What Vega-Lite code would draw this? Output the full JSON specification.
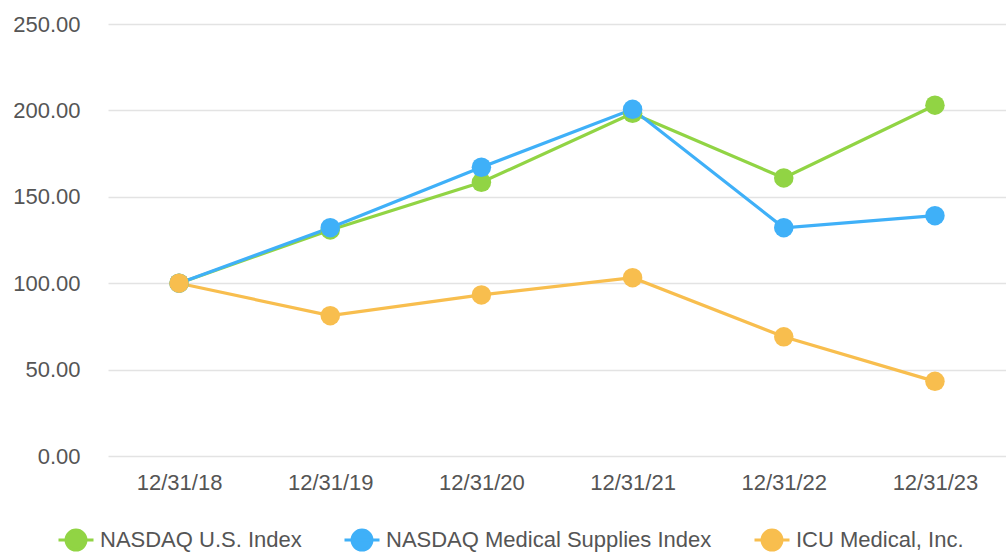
{
  "$schema": "https://vega.github.io/schema/vega-lite/v6.json",
  "width": 898,
  "height": 432,
  "autosize": "none",
  "padding": {"left": 108, "top": 24, "right": 0, "bottom": 98},
  "background": "white",
  "config": {
    "view": {"stroke": null},
    "font": "Liberation Sans"
  },
  "data": {
    "values": [
      {"date": "12/31/18", "series": "NASDAQ U.S. Index", "value": 100},
      {"date": "12/31/19", "series": "NASDAQ U.S. Index", "value": 130.8},
      {"date": "12/31/20", "series": "NASDAQ U.S. Index", "value": 158.4},
      {"date": "12/31/21", "series": "NASDAQ U.S. Index", "value": 198.3},
      {"date": "12/31/22", "series": "NASDAQ U.S. Index", "value": 160.9},
      {"date": "12/31/23", "series": "NASDAQ U.S. Index", "value": 203.0},
      {"date": "12/31/18", "series": "NASDAQ Medical Supplies Index", "value": 100},
      {"date": "12/31/19", "series": "NASDAQ Medical Supplies Index", "value": 132.1},
      {"date": "12/31/20", "series": "NASDAQ Medical Supplies Index", "value": 167.1},
      {"date": "12/31/21", "series": "NASDAQ Medical Supplies Index", "value": 200.6},
      {"date": "12/31/22", "series": "NASDAQ Medical Supplies Index", "value": 132.1},
      {"date": "12/31/23", "series": "NASDAQ Medical Supplies Index", "value": 139.1},
      {"date": "12/31/18", "series": "ICU Medical, Inc.", "value": 100},
      {"date": "12/31/19", "series": "ICU Medical, Inc.", "value": 81.2},
      {"date": "12/31/20", "series": "ICU Medical, Inc.", "value": 93.2},
      {"date": "12/31/21", "series": "ICU Medical, Inc.", "value": 103.2},
      {"date": "12/31/22", "series": "ICU Medical, Inc.", "value": 69.0},
      {"date": "12/31/23", "series": "ICU Medical, Inc.", "value": 43.2}
    ]
  },
  "encoding": {
    "x": {
      "field": "date",
      "type": "ordinal",
      "sort": null,
      "scale": {"type": "point", "padding": 0.47},
      "axis": {
        "title": null,
        "labelAngle": 0,
        "labelFontSize": 22,
        "labelColor": "#555555",
        "labelPadding": 16,
        "domain": false,
        "ticks": false,
        "grid": false
      }
    },
    "y": {
      "field": "value",
      "type": "quantitative",
      "scale": {"domain": [0, 250], "nice": false},
      "axis": {
        "title": null,
        "values": [0, 50, 100, 150, 200, 250],
        "format": ".2f",
        "labelFontSize": 22,
        "labelColor": "#555555",
        "labelPadding": 28,
        "domain": false,
        "ticks": false,
        "gridColor": "#e3e3e3",
        "gridWidth": 1.5
      }
    },
    "color": {
      "field": "series",
      "type": "nominal",
      "sort": null,
      "scale": {
        "domain": ["NASDAQ U.S. Index", "NASDAQ Medical Supplies Index", "ICU Medical, Inc."],
        "range": ["#91d444", "#3fb0f8", "#f8be4e"]
      },
      "legend": {
        "title": null,
        "orient": "none",
        "direction": "horizontal",
        "legendX": -51,
        "legendY": 497,
        "labelFontSize": 22,
        "labelColor": "#555555",
        "labelLimit": 500,
        "labelOffset": 5,
        "columnPadding": 36,
        "symbolType": "M-1,0L1,0M0.57,0A0.57,0.57,0,1,1,-0.57,0A0.57,0.57,0,1,1,0.57,0Z",
        "symbolSize": 1225,
        "symbolStrokeWidth": 3,
        "encode": {
          "symbols": {
            "update": {
              "fill": {"scale": "color", "field": "value"},
              "stroke": {"scale": "color", "field": "value"},
              "opacity": {"value": 1}
            }
          }
        }
      }
    }
  },
  "layer": [
    {
      "mark": {"type": "line", "strokeWidth": 3.2}
    },
    {
      "mark": {"type": "point", "filled": true, "size": 380, "opacity": 1, "shape": "circle"}
    }
  ]
}
